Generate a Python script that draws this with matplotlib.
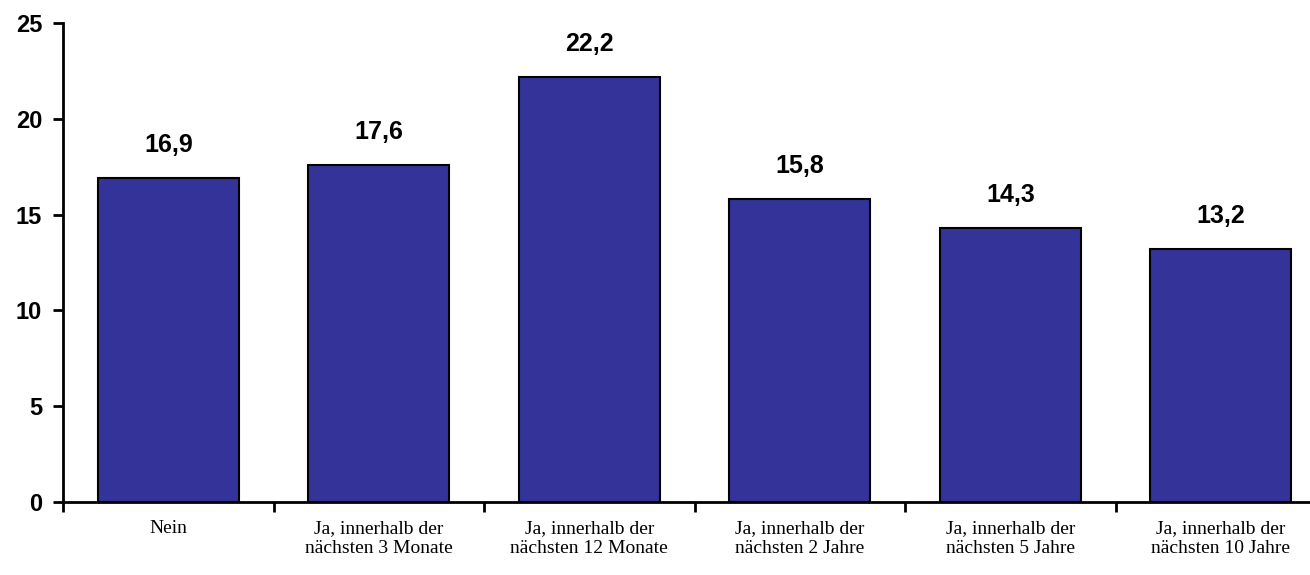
import numpy as np
import matplotlib
matplotlib.use("Agg")
import matplotlib.pyplot as plt

# Data
categories = [
    "Nein",
    "Ja, innerhalb der\nnächsten 3 Monate",
    "Ja, innerhalb der\nnächsten 12 Monate",
    "Ja, innerhalb der\nnächsten 2 Jahre",
    "Ja, innerhalb der\nnächsten 5 Jahre",
    "Ja, innerhalb der\nnächsten 10 Jahre",
]
values = [16.9, 17.6, 22.2, 15.8, 14.3, 13.2]
value_labels = ["16,9", "17,6", "22,2", "15,8", "14,3", "13,2"]
yticks = [0, 5, 10, 15, 20, 25]

fig = plt.figure(figsize=(13.1, 5.75), dpi=100)
ax = fig.add_axes([63 / 1310, 73 / 575, 1263 / 1310, 479 / 575])

x = np.arange(len(categories))
ax.bar(x, values, width=0.67, color="#333399", edgecolor="black", linewidth=1.5)

for xi, v, lab in zip(x, values, value_labels):
    ax.annotate(lab, (xi, v), xytext=(0, 15), textcoords="offset points",
                ha="center", va="bottom", fontsize=18, fontweight="bold",
                family="Liberation Sans")

ax.set_xlim(-0.5, len(categories) - 0.5)
ax.set_ylim(0, 25)
ax.set_yticks(yticks)
ax.set_yticklabels([str(t) for t in yticks], fontsize=17, fontweight="bold",
                   family="Liberation Sans")

# category ticks between bars, labels at bar centers
ax.set_xticks(np.arange(len(categories) + 1) - 0.5)
ax.set_xticklabels([])
ax.set_xticks(x, minor=True)
ax.set_xticklabels(categories, minor=True, fontsize=14, family="Liberation Serif",
                   linespacing=1.2)
ax.tick_params(axis="x", which="minor", length=0, pad=13)
ax.tick_params(axis="x", which="major", length=7, width=2, direction="out")
ax.tick_params(axis="y", length=7, width=2, direction="out", pad=8)

for s in ["top", "right"]:
    ax.spines[s].set_visible(False)
for s in ["left", "bottom"]:
    ax.spines[s].set_linewidth(2)

fig.savefig("out.png", dpi=100)
